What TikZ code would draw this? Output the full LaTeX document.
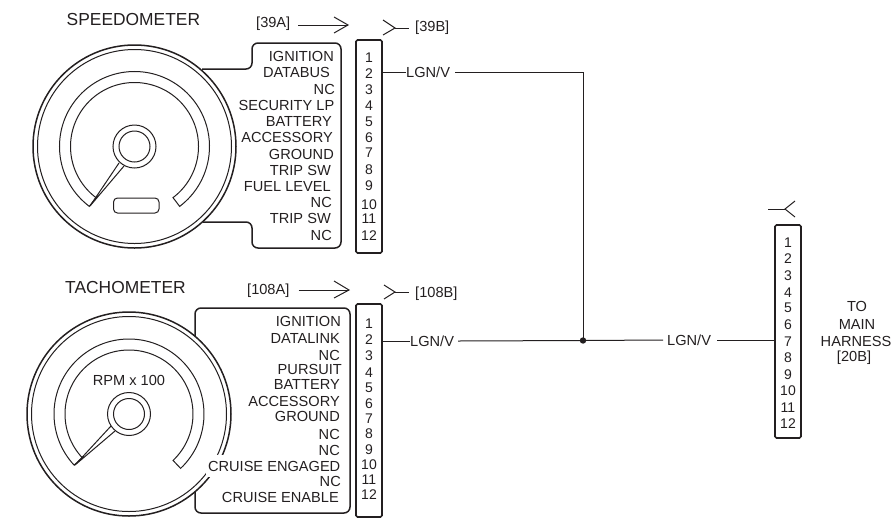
\documentclass[tikz,border=0pt]{standalone}
\usepackage{fontspec}
\setmainfont{Liberation Sans}
\usetikzlibrary{calc}
\definecolor{ink}{HTML}{231F20}
\tikzset{
  lbl/.style={inner sep=0pt,text=ink,font=\fontsize{14.6}{15}\selectfont,anchor=base east},
  num/.style={inner sep=0pt,text=ink,font=\fontsize{14}{15}\selectfont,anchor=base},
  txt/.style={inner sep=0pt,text=ink,font=\fontsize{14.6}{15}\selectfont},
  ttl/.style={inner sep=0pt,text=ink,font=\fontsize{17.4}{18}\selectfont},
  thick line/.style={draw=ink,line width=1.5pt},
  thin line/.style={draw=ink,line width=1pt},
  block/.style={draw=ink,line width=1.6pt,rounded corners=1.5pt,minimum width=26pt,inner sep=0pt,fill=white},
  dial/.style={draw=ink,line width=1pt,fill=white},
}
\newcommand{\gauge}[7]{% center name, left outer/inner angle, right angle
  \draw[dial,line width=1.5pt] (#1) circle[radius=#2pt];
  \draw[thin line] (#1) circle[radius=#3pt];
  \draw[thin line] (#1) ++(#4:75pt) arc[start angle=#4,end angle=#5,radius=75pt]
    -- ($(#1)+(#5:64pt)$) arc[start angle=#5,end angle=#4,radius=64pt] -- cycle;
  \draw[thin line,fill=white] (#1) circle[radius=21.5pt];
  \draw[thin line] (#1) circle[radius=15.5pt];
}
\begin{document}
\begin{tikzpicture}[x=1pt,y=-1pt]
\useasboundingbox (0,0) rectangle (893,520);
% speedometer connector outline
\draw[thick line,rounded corners=6pt] (202,69) -- (252,69) -- (252,43) -- (341,43) -- (341,248) -- (252,248) -- (252,222) -- (203,222);
\coordinate (sc) at (134.5,146.5);
\gauge{sc}{101.5}{97}{233}{-53}{}{}
\draw[thin line] (90,206) -- (119,163) (90,206) -- (124,166);
\draw[thin line,rounded corners=4pt] (113.5,198) rectangle (159,213);
\node[ttl,anchor=west] (stitle) at (66.5,20) {SPEEDOMETER};
% tachometer connector outline
\draw[thick line,rounded corners=6pt] (195,350) -- (195,308) -- (350,308) -- (350,513) -- (195,513) -- (195,470);
\coordinate (tc) at (129,414);
\gauge{tc}{102}{97.5}{223}{-46.5}{}{}
\draw[thin line] (75,465) -- (111,426) (75,465) -- (115,431);
\node[txt] (rpm) at (129,380) {RPM x 100};
\node[ttl,anchor=west] (ttitle) at (65,288) {TACHOMETER};
\node[lbl,fill=white,anchor=base east,inner xsep=2pt,inner ysep=6pt] (t10) at (342.5,471) {CRUISE ENGAGED};
% speedometer pin labels
\foreach \n/\x/\y/\t in {1/334/61/IGNITION,2/330/77/DATABUS,3/335/94/NC,4/334.5/110/SECURITY LP,5/332/126/BATTERY,6/333/142/ACCESSORY,7/334/159/GROUND,8/331/175/TRIP SW,9/331/191/FUEL LEVEL,10/332/207/NC,11/331/223/TRIP SW,12/332/240/NC}
  \node[lbl] (s\n) at (\x,\y) {\t};
% tachometer pin labels
\foreach \n/\x/\y/\t in {1/341/326/IGNITION,2/340/343/DATALINK,3/340/360/NC,4/342/374/PURSUIT,5/340/389/BATTERY,6/340/406/ACCESSORY,7/340/421/GROUND,8/340/439/NC,9/340/455/NC,11/341/486/NC,12/339/502/CRUISE ENABLE}
  \node[lbl] (t\n) at (\x,\y) {\t};
% connector blocks
\node[block,minimum height=213pt] (b39) at (369,146.5) {};
\node[block,minimum height=213pt] (b108) at (369,410.5) {};
\node[block,minimum height=213pt] (bmain) at (788,331.5) {};
\foreach \n/\y in {1/62,2/78,3/94,4/110,5/126,6/142,7/157,8/174,9/190,10/209,11/223,12/240}
  \node[num] (an\n) at (369,\y) {\n};
\foreach \n/\y in {1/328,2/344,3/360,4/377,5/392,6/408,7/423,8/438,9/454,10/469,11/484,12/499}
  \node[num] (bn\n) at (369,\y) {\n};
\foreach \n/\y in {1/247,2/263,3/280,4/297,5/312,6/329,7/346,8/362,9/379,10/395,11/412,12/428}
  \node[num] (cn\n) at (788,\y) {\n};
% connector references
\node[txt,anchor=west] (r39a) at (256,24) {[39A]};
\node[txt,anchor=west] (r39b) at (415,28) {[39B]};
\node[txt,anchor=west] (r108a) at (247,291) {[108A]};
\node[txt,anchor=west] (r108b) at (415,294) {[108B]};
\coordinate (a39) at (348,25);
\coordinate (a108) at (349,290);
\coordinate (f39) at (395,28);
\coordinate (f108) at (395,292);
\coordinate (fmain) at (785,209);
\draw[thin line] (r39a.east) ++(8,1) -- (a39);
\draw[thin line] (334,17) -- (a39) -- (334,33);
\draw[thin line] (r108a.east) ++(9,-1) -- (a108);
\draw[thin line] (334,281) -- (a108) -- (334,298);
\draw[thin line] (383,20) -- (f39) -- (383,35);
\draw[thin line] (f39) -- (409,28);
\draw[thin line] (384,285) -- (f108) -- (384,299);
\draw[thin line] (f108) -- (409,292);
\coordinate (fmain0) at (768,209);
\draw[thin line] (fmain0) -- (fmain);
\draw[thin line] (795,201) -- (fmain) -- (795,217);
% wires
\node[txt,anchor=west] (w1) at (406,72.5) {LGN/V};
\node[txt,anchor=west] (w2) at (410,341) {LGN/V};
\node[txt,anchor=west] (w3) at (667,340) {LGN/V};
\coordinate (j) at (583,340.5);
\draw[thin line] (b39.east |- w1) -- (w1.west);
\draw[thin line] ($(w1.east)+(5,0)$) -- (j |- w1) -- (j);
\draw[thin line] (b108.east |- w2) -- (w2.west);
\draw[thin line] ($(w2.east)+(4,0)$) -- (j) -- ($(w3.west)+(-4,0)$);
\draw[thin line] ($(w3.east)+(6,0)$) -- (bmain.west |- w3);
\fill[ink] (j) circle[radius=3.2pt];
% harness note
\node[txt] (n1) at (857,306) {TO};
\node[txt] (n2) at (857,324) {MAIN};
\node[txt] (n3) at (856,341) {HARNESS};
\node[txt] (n4) at (854,358) {[20B]};
\end{tikzpicture}
\end{document}
